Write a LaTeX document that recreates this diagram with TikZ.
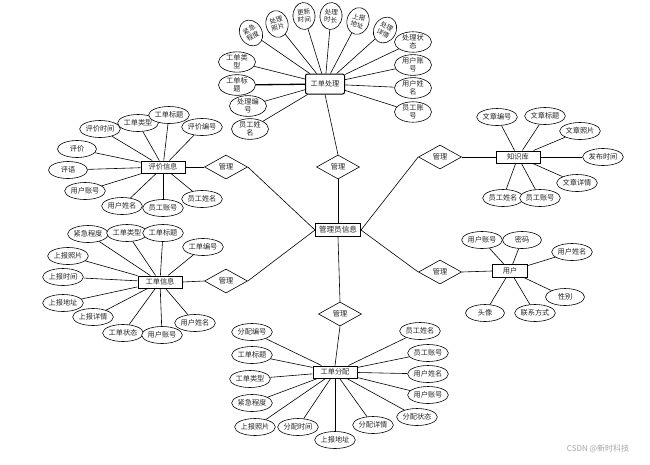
\documentclass[tikz,border=0pt]{standalone}
\usepackage{fontspec}
\setmainfont{Noto Sans CJK SC}
\usetikzlibrary{shapes.geometric}
\tikzset{
  lbl/.style={font=\fontsize{7.2}{8}\selectfont, text=black!85},
  attr/.style={lbl, draw, ellipse, line width=0.6pt, inner sep=0pt, minimum width=39pt, minimum height=17pt, align=center, fill=white},
  attrtwo/.style={attr, minimum width=37pt, minimum height=20pt},
  attrtall/.style={attr, font=\fontsize{6.6}{7.4}\selectfont, minimum width=22pt, minimum height=27pt},
  ent/.style={lbl, draw, rectangle, line width=1pt, minimum width=44pt, minimum height=12pt, inner sep=1pt, fill=white},
  rel/.style={lbl, draw, diamond, line width=0.6pt, inner sep=0pt, minimum width=43pt, minimum height=24pt, fill=white},
  conn/.style={line width=0.6pt},
}
\begin{document}
\begin{tikzpicture}[x=1pt,y=1pt]
\fill[white] (0,0) rectangle (650,-464);
\useasboundingbox (0,0) rectangle (650,-464);

% central entity and relations
\node[ent, minimum width=45pt, minimum height=13pt, font=\fontsize{7.6}{8}\selectfont] (c) at (338,-230) {管理员信息};
\node[rel] (dT) at (338,-167) {管理};
\node[rel] (dUL) at (226,-167) {管理};
\node[rel] (dUR) at (440,-157) {管理};
\node[rel] (dLL) at (226,-281) {管理};
\node[rel] (dLR) at (440,-272) {管理};
\node[rel] (dB) at (340,-314) {管理};

% entities
\node[ent, rounded corners=2pt, minimum width=39pt, minimum height=20pt] (eP) at (325,-84) {工单处理};
\node[ent] (eE) at (163,-167) {评价信息};
\node[ent] (eK) at (518,-157) {知识库};
\node[ent] (eW) at (160,-282) {工单信息};
\node[ent, minimum width=35pt, minimum height=13pt] (eU) at (510,-271) {用户};
\node[ent] (eA) at (335,-372) {工单分配};

% attributes of 工单处理
\node[attrtall, rotate=30] (p1) at (251,-33) {紧急\\程度};
\node[attrtall, rotate=15] (p2) at (277,-24) {处理\\照片};
\node[attrtall, rotate=5] (p3) at (304,-16) {更新\\时间};
\node[attrtall, rotate=-5] (p4) at (331,-16) {处理\\时长};
\node[attrtall, rotate=-15] (p5) at (358,-21) {上报\\地址};
\node[attrtall, rotate=-30] (p6) at (385,-30) {处理\\详情};
\node[attrtwo] (p7) at (237,-62) {工单类\\型};
\node[attrtwo] (p8) at (237,-85) {工单标\\题};
\node[attrtwo] (p9) at (248,-106) {处理编\\号};
\node[attrtwo] (p10) at (250,-129) {员工姓\\名};
\node[attrtwo] (p11) at (413,-42) {处理状\\态};
\node[attrtwo] (p12) at (413,-65) {用户账\\号};
\node[attrtwo] (p13) at (413,-88) {用户姓\\名};
\node[attrtwo] (p14) at (413,-112) {员工账\\号};

% attributes of 评价信息
\node[attr] (e1) at (100,-129) {评价时间};
\node[attr] (e2) at (138,-123) {工单类型};
\node[attr] (e3) at (169,-115) {工单标题};
\node[attr] (e4) at (202,-127) {评价编号};
\node[attr] (e5) at (77,-149) {评价};
\node[attr] (e6) at (68,-170) {评语};
\node[attr] (e7) at (85,-191) {用户账号};
\node[attr] (e8) at (122,-206) {用户姓名};
\node[attr] (e9) at (163,-208) {员工账号};
\node[attr] (e10) at (202,-199) {员工姓名};

% attributes of 知识库
\node[attr] (k1) at (497,-117) {文章编号};
\node[attr] (k2) at (545,-116) {文章标题};
\node[attr] (k3) at (580,-131) {文章照片};
\node[attr] (k4) at (603,-157) {发布时间};
\node[attr] (k5) at (577,-183) {文章详情};
\node[attr] (k6) at (503,-198) {员工姓名};
\node[attr] (k7) at (540,-198) {员工账号};

% attributes of 工单信息
\node[attr] (w1) at (88,-234) {紧急程度};
\node[attr] (w2) at (127,-233) {工单类型};
\node[attr] (w3) at (163,-233) {工单标题};
\node[attr] (w4) at (203,-247) {工单编号};
\node[attr] (w5) at (68,-256) {上报照片};
\node[attr] (w6) at (63,-277) {上报时间};
\node[attr] (w7) at (63,-303) {上报地址};
\node[attr] (w8) at (93,-317) {上报详情};
\node[attr] (w9) at (123,-333) {工单状态};
\node[attr] (w10) at (162,-335) {用户账号};
\node[attr] (w11) at (195,-323) {用户姓名};

% attributes of 用户
\node[attr] (u1) at (482,-240) {用户账号};
\node[attr] (u2) at (522,-240) {密码};
\node[attr] (u3) at (572,-252) {用户姓名};
\node[attr] (u4) at (565,-297) {性别};
\node[attr] (u5) at (535,-313) {联系方式};
\node[attr] (u6) at (485,-313) {头像};

% attributes of 工单分配
\node[attr] (a1) at (252,-332) {分配编号};
\node[attr] (a2) at (252,-355) {工单标题};
\node[attr] (a3) at (250,-379) {工单类型};
\node[attr] (a4) at (252,-403) {紧急程度};
\node[attr] (a5) at (255,-427) {上报照片};
\node[attr] (a6) at (298,-427) {分配时间};
\node[attr] (a7) at (335,-440) {上报地址};
\node[attr] (a8) at (373,-425) {分配详情};
\node[attr] (a9) at (417,-417) {分配状态};
\node[attr] (a10) at (428,-395) {用户账号};
\node[attr] (a11) at (428,-374) {用户姓名};
\node[attr] (a12) at (428,-353) {员工账号};
\node[attr] (a13) at (420,-331) {员工姓名};

% connectors
\foreach \n in {p1,p2,p3,p4,p5,p6,p7,p9,p10,p11,p12,p13,p14} \draw[conn] (\n) -- (eP);
\draw[line width=1.3pt] (p8) -- (eP);
\foreach \n in {e1,e2,e3,e4,e5,e6,e7,e8,e9,e10} \draw[conn] (\n) -- (eE);
\foreach \n in {k1,k2,k3,k4,k5,k6,k7} \draw[conn] (\n) -- (eK);
\foreach \n in {w1,w2,w3,w4,w5,w6,w7,w8,w9,w10,w11} \draw[conn] (\n) -- (eW);
\foreach \n in {u1,u2,u3,u4,u5,u6} \draw[conn] (\n) -- (eU);
\foreach \n in {a1,a2,a3,a4,a5,a6,a7,a8,a9,a10,a11,a12,a13} \draw[conn] (\n) -- (eA);

\draw[conn] (eE.east) -- (dUL.west);
\draw[conn] (dUL.east) -- (c.west);
\draw[conn] (eW.east) -- (dLL.west);
\draw[conn] (dLL.east) -- (c.west);
\draw[conn] (eK.west) -- (dUR.east);
\draw[conn] (dUR.west) -- (c.east);
\draw[conn] (eU.west) -- (dLR.east);
\draw[conn] (dLR.west) -- (c.east);
\draw[conn] (eP.south) -- (dT.north);
\draw[conn] (dT.south) -- (c.north);
\draw[conn] (c.south) -- (dB.north);
\draw[conn] (dB.south) -- (eA.north);

% watermark
\node[font=\fontsize{8}{9}\selectfont, text=black!35] (wm) at (598,-449) {CSDN @新时科技};
\end{tikzpicture}
\end{document}
